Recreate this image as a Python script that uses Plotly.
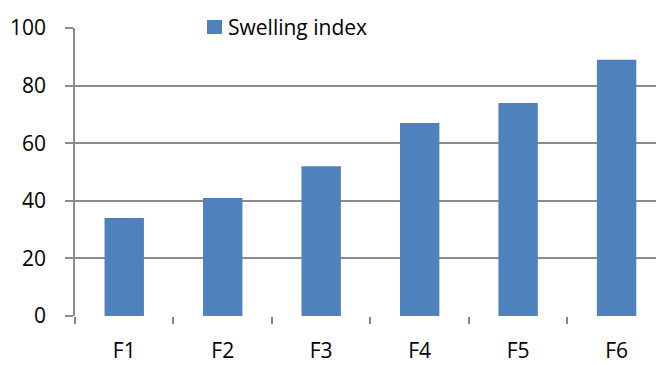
import plotly.graph_objects as go

categories = ["F1", "F2", "F3", "F4", "F5", "F6"]
swelling_index = [34, 41, 52, 67, 74, 89]
y_ticks = [0, 20, 40, 60, 80, 100]
series_name = "Swelling index"
bar_color = "#4F81BD"

W, H = 656, 365
ML, MR, MT, MB = 75, 0, 28, 49
PW, PH = W - ML - MR, H - MT - MB


def px_x(px):
    return (px - ML) / PW


def px_y(py):
    return (H - MB - py) / PH


fig = go.Figure()
fig.add_trace(go.Bar(
    x=categories, y=swelling_index, name=series_name,
    marker=dict(color=bar_color, line=dict(width=0)), width=0.4,
    showlegend=False,
))

font_family = "Open Sans, Liberation Sans, sans-serif"
fig.update_layout(
    width=W, height=H,
    margin=dict(l=ML, r=MR, t=MT, b=MB, autoexpand=False),
    paper_bgcolor="white", plot_bgcolor="white",
    font=dict(family=font_family, size=21, color="black"),
    showlegend=False,
)
# legend (manual, to match key size/spacing)
fig.add_shape(type="rect", xref="paper", yref="paper",
              x0=px_x(207), x1=px_x(222), y0=px_y(34), y1=px_y(20),
              fillcolor=bar_color, line=dict(width=0), layer="above")
fig.add_annotation(text=series_name, xref="paper", yref="paper",
                   x=px_x(226), y=px_y(27), xanchor="left", yanchor="middle",
                   showarrow=False, font=dict(size=21, family=font_family))

fig.update_xaxes(
    type="category", range=[-0.5, 5.4], automargin=False,
    showgrid=False, showline=False,
    ticks="outside", tickson="boundaries", ticklen=7, tickwidth=1.5, tickcolor="#868686",
    ticklabelstandoff=20, zeroline=False,
)
fig.update_yaxes(
    range=[0, 100], tickvals=y_ticks, automargin=False,
    showgrid=True, gridcolor="#8C8C8C", gridwidth=1.5,
    showline=True, linecolor="#8C8C8C", linewidth=1.5,
    ticks="outside", ticklen=8, tickwidth=1.5, tickcolor="#8C8C8C",
    ticklabelstandoff=15, zeroline=False,
)
fig.write_html("out.html",
               config={"displayModeBar": False},
               post_script="document.body.style.margin='0';document.body.style.overflow='hidden';")
